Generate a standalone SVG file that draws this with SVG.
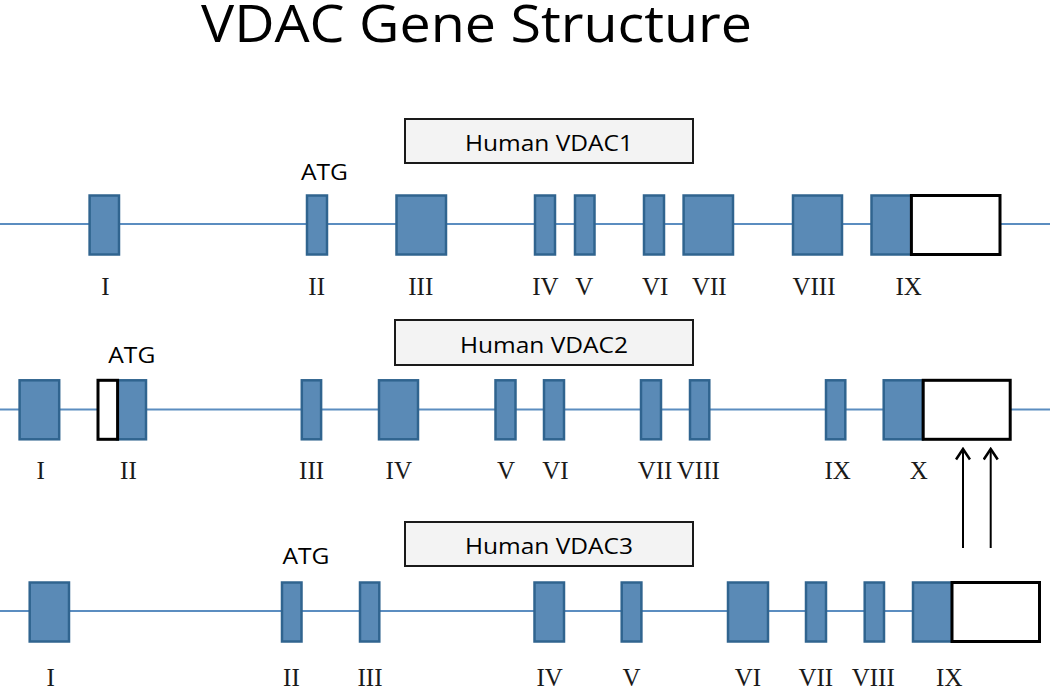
<svg xmlns="http://www.w3.org/2000/svg" width="1050" height="689" viewBox="0 0 1050 689">
<defs>
<style>
.bg{fill:#ffffff}
.intron{stroke:#5b8dc0;stroke-width:2.2;fill:none}
.exon{fill:#5a8ab6;stroke:#30648f;stroke-width:2.5}
.utr{fill:#ffffff;stroke:#000000;stroke-width:3}
.lbl{fill:#f3f3f3;stroke:#1a1a1a;stroke-width:2}
.title{font-family:"Open Sans","Liberation Sans",sans-serif;font-size:52px;fill:#000}
.name{font-family:"Open Sans","Liberation Sans",sans-serif;font-size:21px;fill:#000;text-anchor:middle}
.atg{font-family:"Open Sans","Liberation Sans",sans-serif;font-size:21px;fill:#000;text-anchor:middle}
.num{font-family:"Liberation Serif","Times New Roman",serif;font-size:25px;fill:#1a1a1a;text-anchor:middle}
.arrow{stroke:#000;stroke-width:2;fill:none}
</style>
<marker id="ah" viewBox="0 0 14 16" refX="12" refY="8" markerWidth="14" markerHeight="16" markerUnits="userSpaceOnUse" orient="auto">
<path d="M1.5,1 L12,8 L1.5,15" fill="none" stroke="#000" stroke-width="2.6" stroke-linejoin="miter"/>
</marker>
</defs>
<rect class="bg" x="0" y="0" width="1050" height="689"/>
<text id="title" class="title" x="201" y="42" textLength="551" lengthAdjust="spacingAndGlyphs">VDAC Gene Structure</text>

<g id="vdac1">
<rect class="lbl" x="405" y="119" width="288" height="44"/>
<text class="name" x="549" y="151" textLength="168" lengthAdjust="spacingAndGlyphs">Human VDAC1</text>
<line class="intron" x1="0" y1="224" x2="1050" y2="224"/>
<rect class="exon" x="89.6" y="195.5" width="29.4" height="59"/>
<rect class="exon" x="307" y="195.5" width="20" height="59"/>
<rect class="exon" x="396.5" y="195.5" width="49.5" height="59"/>
<rect class="exon" x="535" y="195.5" width="20" height="59"/>
<rect class="exon" x="575" y="195.5" width="19.5" height="59"/>
<rect class="exon" x="644" y="195.5" width="20" height="59"/>
<rect class="exon" x="683.6" y="195.5" width="49.4" height="59"/>
<rect class="exon" x="793" y="195.5" width="49" height="59"/>
<rect class="exon" x="871.5" y="195.5" width="40" height="59"/>
<rect class="utr" x="911.4" y="195.5" width="88.6" height="59"/>
<text class="atg" x="324.5" y="180" textLength="47" lengthAdjust="spacingAndGlyphs">ATG</text>
<text class="num" x="105.5" y="295">I</text>
<text class="num" x="316.7" y="295">II</text>
<text class="num" x="420.8" y="295">III</text>
<text class="num" x="545.4" y="295">IV</text>
<text class="num" x="584.2" y="295">V</text>
<text class="num" x="655.2" y="295">VI</text>
<text class="num" x="709.3" y="295">VII</text>
<text class="num" x="814" y="295">VIII</text>
<text class="num" x="908.7" y="295">IX</text>
</g>

<g id="vdac2">
<rect class="lbl" x="395" y="320" width="298" height="45"/>
<text class="name" x="544" y="353" textLength="168" lengthAdjust="spacingAndGlyphs">Human VDAC2</text>
<line class="intron" x1="0" y1="409.5" x2="1050" y2="409.5"/>
<rect class="exon" x="19.6" y="380.3" width="39.6" height="59"/>
<rect class="exon" x="117" y="380.3" width="29" height="59"/>
<rect class="utr" x="98" y="380.3" width="19.6" height="59"/>
<rect class="exon" x="301.8" y="380.3" width="19.3" height="59"/>
<rect class="exon" x="379" y="380.3" width="39" height="59"/>
<rect class="exon" x="495.5" y="380.3" width="20" height="59"/>
<rect class="exon" x="544" y="380.3" width="20" height="59"/>
<rect class="exon" x="641" y="380.3" width="20" height="59"/>
<rect class="exon" x="690" y="380.3" width="19.3" height="59"/>
<rect class="exon" x="826" y="380.3" width="19.3" height="59"/>
<rect class="exon" x="883.7" y="380.3" width="39" height="59"/>
<rect class="utr" x="923.2" y="380.3" width="87" height="59"/>
<text class="atg" x="131.8" y="363" textLength="47" lengthAdjust="spacingAndGlyphs">ATG</text>
<text class="num" x="40.6" y="479">I</text>
<text class="num" x="128.4" y="479">II</text>
<text class="num" x="311.6" y="479">III</text>
<text class="num" x="398.8" y="479">IV</text>
<text class="num" x="506" y="479">V</text>
<text class="num" x="555.5" y="479">VI</text>
<text class="num" x="655" y="479">VII</text>
<text class="num" x="698.3" y="479">VIII</text>
<text class="num" x="837.7" y="479">IX</text>
<text class="num" x="918.8" y="479">X</text>
</g>

<g id="vdac3">
<rect class="lbl" x="405" y="522" width="288" height="44"/>
<text class="name" x="549" y="554" textLength="168" lengthAdjust="spacingAndGlyphs">Human VDAC3</text>
<line class="intron" x1="0" y1="611" x2="913" y2="611"/>
<rect class="exon" x="29.7" y="582.5" width="39.3" height="59"/>
<rect class="exon" x="282" y="582.5" width="19.5" height="59"/>
<rect class="exon" x="360" y="582.5" width="19.3" height="59"/>
<rect class="exon" x="534.5" y="582.5" width="29.5" height="59"/>
<rect class="exon" x="621.7" y="582.5" width="19.7" height="59"/>
<rect class="exon" x="728" y="582.5" width="40" height="59"/>
<rect class="exon" x="806" y="582.5" width="20" height="59"/>
<rect class="exon" x="864.7" y="582.5" width="19.3" height="59"/>
<rect class="exon" x="913" y="582.5" width="39" height="59"/>
<rect class="utr" x="952" y="582.5" width="87.5" height="59"/>
<text class="atg" x="305.9" y="564" textLength="47" lengthAdjust="spacingAndGlyphs">ATG</text>
<text class="num" x="50.7" y="686">I</text>
<text class="num" x="291.4" y="686">II</text>
<text class="num" x="370" y="686">III</text>
<text class="num" x="549.7" y="686">IV</text>
<text class="num" x="631.5" y="686">V</text>
<text class="num" x="748" y="686">VI</text>
<text class="num" x="815.8" y="686">VII</text>
<text class="num" x="873.2" y="686">VIII</text>
<text class="num" x="949.3" y="686">IX</text>
</g>

<g id="connectors">
<line class="arrow" x1="963" y1="548" x2="963" y2="449" marker-end="url(#ah)"/>
<line class="arrow" x1="990.7" y1="548" x2="990.7" y2="449" marker-end="url(#ah)"/>
</g>
</svg>
